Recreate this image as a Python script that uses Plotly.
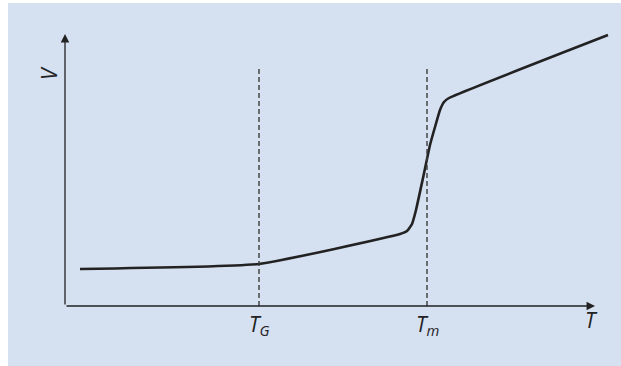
import plotly.graph_objects as go

# Curve data (arbitrary units: temperature T, volume V)
T_curve = [1.5, 19.4, 33.5, 34.2, 34.7, 35.1, 35.8, 36.5, 37.0, 37.5, 37.9, 38.4, 54.3]
V_curve = [3.7, 4.2, 7.2, 7.5, 8.2, 9.6, 12.8, 16.1, 17.9, 19.6, 20.4, 20.8, 27.1]

T_G = 19.4
T_m = 36.2
dash_top = 23.8
x_axis_end = 53.0
y_axis_end = 27.2

BG = "#d5e0f1"
INK = "#222222"

fig = go.Figure()

fig.add_trace(go.Scatter(x=T_curve, y=V_curve, mode="lines",
                         line=dict(color=INK, width=2.6, shape="spline", smoothing=0.4),
                         hoverinfo="skip", showlegend=False))

for xv in (T_G, T_m):
    fig.add_trace(go.Scatter(x=[xv, xv], y=[0, dash_top], mode="lines",
                             line=dict(color="#3a3a3a", width=1.4, dash="5px,3px"),
                             hoverinfo="skip", showlegend=False))

# white margins at left and top; rest of the page is the blue panel
shapes = [
    dict(type="rect", xref="paper", yref="paper", x0=0, x1=8/621, y0=-0.05, y1=1.05,
         fillcolor="white", line=dict(width=0), layer="below"),
    dict(type="rect", xref="paper", yref="paper", x0=0, x1=1.05, y0=1-3/366, y1=1.05,
         fillcolor="white", line=dict(width=0), layer="below"),
]

font_it = "Open Sans"
annotations = [
    # axes arrows
    dict(x=x_axis_end, y=0, ax=0, ay=0, xref="x", yref="y", axref="x", ayref="y",
         showarrow=True, arrowhead=2, arrowsize=1.3, arrowwidth=1.3, arrowcolor=INK, text=""),
    dict(x=0, y=y_axis_end, ax=0, ay=0, xref="x", yref="y", axref="x", ayref="y",
         showarrow=True, arrowhead=2, arrowsize=1.3, arrowwidth=1.3, arrowcolor=INK, text=""),
    # labels
    dict(x=52.6, y=-1.4, xref="x", yref="y", text="<i>T</i>", showarrow=False,
         font=dict(family=font_it, size=21, color=INK)),
    dict(x=-1.6, y=23.3, xref="x", yref="y", text="<i>V</i>", showarrow=False, textangle=-90,
         font=dict(family=font_it, size=21, color=INK)),
    dict(x=T_G, y=-1.9, xref="x", yref="y", text="<i>T</i><sub><i>G</i></sub>", showarrow=False,
         font=dict(family=font_it, size=21, color=INK)),
    dict(x=T_m, y=-1.9, xref="x", yref="y", text="<i>T</i><sub><i>m</i></sub>", showarrow=False,
         font=dict(family=font_it, size=21, color=INK)),
]

fig.update_layout(
    width=621, height=366,
    margin=dict(l=0, r=0, t=0, b=0),
    paper_bgcolor=BG, plot_bgcolor="rgba(0,0,0,0)",
    xaxis=dict(range=[-6.5, 55.6], visible=False, fixedrange=True),
    yaxis=dict(range=[-6.0, 30.6], visible=False, fixedrange=True),
    shapes=shapes, annotations=annotations, showlegend=False,
)

post = (
    "document.documentElement.style.margin='0px';"
    "document.documentElement.style.padding='0px';"
    "document.documentElement.style.overflow='hidden';"
    "document.documentElement.style.background='" + BG + "';"
    "document.body.style.margin='0px';"
    "document.body.style.padding='0px';"
    "document.body.style.overflow='hidden';"
    "document.body.style.background='" + BG + "';"
)
fig.write_html("out.html", config={"displayModeBar": False}, post_script=post)
